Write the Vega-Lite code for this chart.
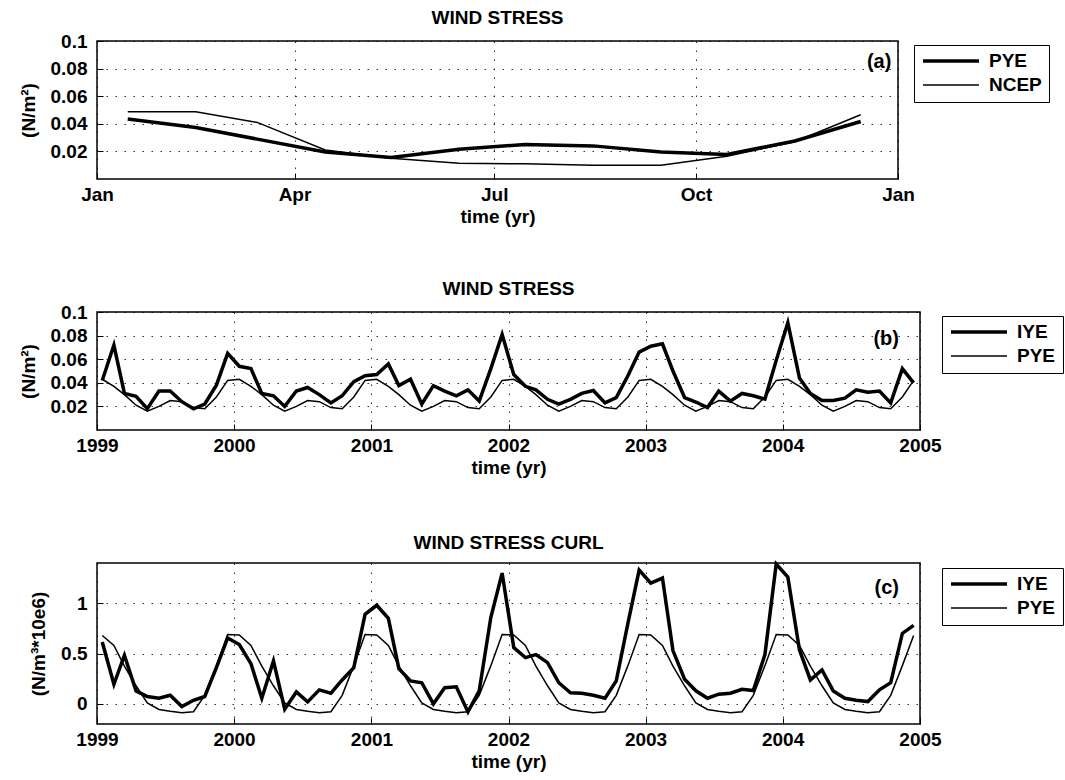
{
  "$schema": "https://vega.github.io/schema/vega-lite/v6.json",
  "background": "white",
  "padding": {"left": 18, "top": 8, "right": 2, "bottom": 2},
  "config": {
    "font": "Liberation Sans",
    "view": {"stroke": "black", "strokeWidth": 1.5},
    "axis": {
      "labelFont": "Liberation Sans", "labelFontWeight": "bold", "labelFontSize": 19, "labelColor": "black",
      "titleFont": "Liberation Sans", "titleFontWeight": "bold", "titleFontSize": 19, "titleColor": "black",
      "domain": false, "grid": true, "gridColor": "black", "gridDash": [1.5, 7.5], "gridWidth": 1, "gridOpacity": 0.8,
      "tickColor": "black", "tickSize": -6, "tickWidth": 1, "labelOverlap": false, "labelFlush": false, "labelPadding": 16
    },
    "axisX": {"titlePadding": 3, "labelPadding": 12},
    "axisY": {"titlePadding": 12},
    "title": {"font": "Liberation Sans", "fontWeight": "bold", "fontSize": 19, "color": "black", "anchor": "middle", "frame": "group", "offset": 4},
    "legend": {
      "title": null, "orient": "none", "strokeColor": "black", "fillColor": "white", "padding": 7,
      "symbolType": "stroke", "symbolSize": 3136, "symbolStrokeColor": "black", "clipHeight": 18,
      "labelFont": "Liberation Sans", "labelFontSize": 19, "labelFontWeight": "bold", "labelColor": "black",
      "labelOffset": 8, "rowPadding": 5, "labelLimit": 200
    }
  },
  "datasets": {
    "a": [
      {"date": "2001-01-15", "PYE": 0.0435, "NCEP": 0.0488},
      {"date": "2001-02-15", "PYE": 0.0373, "NCEP": 0.0488},
      {"date": "2001-03-15", "PYE": 0.0289, "NCEP": 0.041},
      {"date": "2001-04-15", "PYE": 0.0195, "NCEP": 0.021},
      {"date": "2001-05-15", "PYE": 0.0155, "NCEP": 0.015},
      {"date": "2001-06-15", "PYE": 0.0215, "NCEP": 0.0115},
      {"date": "2001-07-15", "PYE": 0.025, "NCEP": 0.011},
      {"date": "2001-08-15", "PYE": 0.024, "NCEP": 0.010},
      {"date": "2001-09-15", "PYE": 0.0195, "NCEP": 0.010},
      {"date": "2001-10-15", "PYE": 0.0178, "NCEP": 0.0165},
      {"date": "2001-11-15", "PYE": 0.0275, "NCEP": 0.027},
      {"date": "2001-12-15", "PYE": 0.0417, "NCEP": 0.0466}
    ],
    "b": [
      {"date": "1999-01-15", "IYE": 0.042, "PYE": 0.043},
      {"date": "1999-02-15", "IYE": 0.072, "PYE": 0.037},
      {"date": "1999-03-15", "IYE": 0.031, "PYE": 0.030},
      {"date": "1999-04-15", "IYE": 0.0285, "PYE": 0.021},
      {"date": "1999-05-15", "IYE": 0.018, "PYE": 0.016},
      {"date": "1999-06-15", "IYE": 0.033, "PYE": 0.020},
      {"date": "1999-07-15", "IYE": 0.033, "PYE": 0.025},
      {"date": "1999-08-15", "IYE": 0.024, "PYE": 0.024},
      {"date": "1999-09-15", "IYE": 0.018, "PYE": 0.019},
      {"date": "1999-10-15", "IYE": 0.022, "PYE": 0.018},
      {"date": "1999-11-15", "IYE": 0.038, "PYE": 0.028},
      {"date": "1999-12-15", "IYE": 0.065, "PYE": 0.042},
      {"date": "2000-01-15", "IYE": 0.054, "PYE": 0.043},
      {"date": "2000-02-15", "IYE": 0.052, "PYE": 0.037},
      {"date": "2000-03-15", "IYE": 0.031, "PYE": 0.030},
      {"date": "2000-04-15", "IYE": 0.029, "PYE": 0.021},
      {"date": "2000-05-15", "IYE": 0.020, "PYE": 0.016},
      {"date": "2000-06-15", "IYE": 0.033, "PYE": 0.020},
      {"date": "2000-07-15", "IYE": 0.036, "PYE": 0.025},
      {"date": "2000-08-15", "IYE": 0.030, "PYE": 0.024},
      {"date": "2000-09-15", "IYE": 0.023, "PYE": 0.019},
      {"date": "2000-10-15", "IYE": 0.029, "PYE": 0.018},
      {"date": "2000-11-15", "IYE": 0.041, "PYE": 0.028},
      {"date": "2000-12-15", "IYE": 0.046, "PYE": 0.042},
      {"date": "2001-01-15", "IYE": 0.047, "PYE": 0.043},
      {"date": "2001-02-15", "IYE": 0.056, "PYE": 0.037},
      {"date": "2001-03-15", "IYE": 0.0376, "PYE": 0.030},
      {"date": "2001-04-15", "IYE": 0.043, "PYE": 0.021},
      {"date": "2001-05-15", "IYE": 0.022, "PYE": 0.016},
      {"date": "2001-06-15", "IYE": 0.0376, "PYE": 0.020},
      {"date": "2001-07-15", "IYE": 0.033, "PYE": 0.025},
      {"date": "2001-08-15", "IYE": 0.029, "PYE": 0.024},
      {"date": "2001-09-15", "IYE": 0.034, "PYE": 0.019},
      {"date": "2001-10-15", "IYE": 0.0245, "PYE": 0.018},
      {"date": "2001-11-15", "IYE": 0.052, "PYE": 0.028},
      {"date": "2001-12-15", "IYE": 0.081, "PYE": 0.042},
      {"date": "2002-01-15", "IYE": 0.047, "PYE": 0.043},
      {"date": "2002-02-15", "IYE": 0.037, "PYE": 0.037},
      {"date": "2002-03-15", "IYE": 0.034, "PYE": 0.030},
      {"date": "2002-04-15", "IYE": 0.026, "PYE": 0.021},
      {"date": "2002-05-15", "IYE": 0.022, "PYE": 0.016},
      {"date": "2002-06-15", "IYE": 0.026, "PYE": 0.020},
      {"date": "2002-07-15", "IYE": 0.031, "PYE": 0.025},
      {"date": "2002-08-15", "IYE": 0.0335, "PYE": 0.024},
      {"date": "2002-09-15", "IYE": 0.023, "PYE": 0.019},
      {"date": "2002-10-15", "IYE": 0.0275, "PYE": 0.018},
      {"date": "2002-11-15", "IYE": 0.046, "PYE": 0.028},
      {"date": "2002-12-15", "IYE": 0.066, "PYE": 0.042},
      {"date": "2003-01-15", "IYE": 0.071, "PYE": 0.043},
      {"date": "2003-02-15", "IYE": 0.073, "PYE": 0.037},
      {"date": "2003-03-15", "IYE": 0.050, "PYE": 0.030},
      {"date": "2003-04-15", "IYE": 0.0275, "PYE": 0.021},
      {"date": "2003-05-15", "IYE": 0.0237, "PYE": 0.016},
      {"date": "2003-06-15", "IYE": 0.019, "PYE": 0.020},
      {"date": "2003-07-15", "IYE": 0.033, "PYE": 0.025},
      {"date": "2003-08-15", "IYE": 0.0245, "PYE": 0.024},
      {"date": "2003-09-15", "IYE": 0.031, "PYE": 0.019},
      {"date": "2003-10-15", "IYE": 0.029, "PYE": 0.018},
      {"date": "2003-11-15", "IYE": 0.0262, "PYE": 0.028},
      {"date": "2003-12-15", "IYE": 0.059, "PYE": 0.042},
      {"date": "2004-01-15", "IYE": 0.091, "PYE": 0.043},
      {"date": "2004-02-15", "IYE": 0.044, "PYE": 0.037},
      {"date": "2004-03-15", "IYE": 0.031, "PYE": 0.030},
      {"date": "2004-04-15", "IYE": 0.025, "PYE": 0.021},
      {"date": "2004-05-15", "IYE": 0.025, "PYE": 0.016},
      {"date": "2004-06-15", "IYE": 0.027, "PYE": 0.020},
      {"date": "2004-07-15", "IYE": 0.034, "PYE": 0.025},
      {"date": "2004-08-15", "IYE": 0.032, "PYE": 0.024},
      {"date": "2004-09-15", "IYE": 0.033, "PYE": 0.019},
      {"date": "2004-10-15", "IYE": 0.023, "PYE": 0.018},
      {"date": "2004-11-15", "IYE": 0.052, "PYE": 0.028},
      {"date": "2004-12-15", "IYE": 0.040, "PYE": 0.042}
    ],
    "c": [
      {"date": "1999-01-15", "IYE": 0.615, "PYE": 0.68},
      {"date": "1999-02-15", "IYE": 0.195, "PYE": 0.58},
      {"date": "1999-03-15", "IYE": 0.483, "PYE": 0.375},
      {"date": "1999-04-15", "IYE": 0.129, "PYE": 0.18},
      {"date": "1999-05-15", "IYE": 0.073, "PYE": 0.01},
      {"date": "1999-06-15", "IYE": 0.056, "PYE": -0.055},
      {"date": "1999-07-15", "IYE": 0.086, "PYE": -0.073},
      {"date": "1999-08-15", "IYE": -0.026, "PYE": -0.088},
      {"date": "1999-09-15", "IYE": 0.036, "PYE": -0.078},
      {"date": "1999-10-15", "IYE": 0.073, "PYE": 0.085},
      {"date": "1999-11-15", "IYE": 0.36, "PYE": 0.38},
      {"date": "1999-12-15", "IYE": 0.655, "PYE": 0.69},
      {"date": "2000-01-15", "IYE": 0.59, "PYE": 0.685},
      {"date": "2000-02-15", "IYE": 0.40, "PYE": 0.58},
      {"date": "2000-03-15", "IYE": 0.056, "PYE": 0.375},
      {"date": "2000-04-15", "IYE": 0.427, "PYE": 0.18},
      {"date": "2000-05-15", "IYE": -0.053, "PYE": 0.01},
      {"date": "2000-06-15", "IYE": 0.119, "PYE": -0.055},
      {"date": "2000-07-15", "IYE": 0.02, "PYE": -0.073},
      {"date": "2000-08-15", "IYE": 0.139, "PYE": -0.088},
      {"date": "2000-09-15", "IYE": 0.106, "PYE": -0.078},
      {"date": "2000-10-15", "IYE": 0.238, "PYE": 0.085},
      {"date": "2000-11-15", "IYE": 0.36, "PYE": 0.38},
      {"date": "2000-12-15", "IYE": 0.89, "PYE": 0.69},
      {"date": "2001-01-15", "IYE": 0.98, "PYE": 0.685},
      {"date": "2001-02-15", "IYE": 0.85, "PYE": 0.58},
      {"date": "2001-03-15", "IYE": 0.35, "PYE": 0.375},
      {"date": "2001-04-15", "IYE": 0.228, "PYE": 0.18},
      {"date": "2001-05-15", "IYE": 0.21, "PYE": 0.01},
      {"date": "2001-06-15", "IYE": 0.0, "PYE": -0.055},
      {"date": "2001-07-15", "IYE": 0.16, "PYE": -0.073},
      {"date": "2001-08-15", "IYE": 0.17, "PYE": -0.088},
      {"date": "2001-09-15", "IYE": -0.08, "PYE": -0.078},
      {"date": "2001-10-15", "IYE": 0.13, "PYE": 0.085},
      {"date": "2001-11-15", "IYE": 0.86, "PYE": 0.38},
      {"date": "2001-12-15", "IYE": 1.30, "PYE": 0.69},
      {"date": "2002-01-15", "IYE": 0.56, "PYE": 0.685},
      {"date": "2002-02-15", "IYE": 0.46, "PYE": 0.58},
      {"date": "2002-03-15", "IYE": 0.49, "PYE": 0.375},
      {"date": "2002-04-15", "IYE": 0.41, "PYE": 0.18},
      {"date": "2002-05-15", "IYE": 0.21, "PYE": 0.01},
      {"date": "2002-06-15", "IYE": 0.11, "PYE": -0.055},
      {"date": "2002-07-15", "IYE": 0.106, "PYE": -0.073},
      {"date": "2002-08-15", "IYE": 0.086, "PYE": -0.088},
      {"date": "2002-09-15", "IYE": 0.056, "PYE": -0.078},
      {"date": "2002-10-15", "IYE": 0.228, "PYE": 0.085},
      {"date": "2002-11-15", "IYE": 0.80, "PYE": 0.38},
      {"date": "2002-12-15", "IYE": 1.33, "PYE": 0.69},
      {"date": "2003-01-15", "IYE": 1.20, "PYE": 0.685},
      {"date": "2003-02-15", "IYE": 1.25, "PYE": 0.58},
      {"date": "2003-03-15", "IYE": 0.53, "PYE": 0.375},
      {"date": "2003-04-15", "IYE": 0.245, "PYE": 0.18},
      {"date": "2003-05-15", "IYE": 0.13, "PYE": 0.01},
      {"date": "2003-06-15", "IYE": 0.056, "PYE": -0.055},
      {"date": "2003-07-15", "IYE": 0.096, "PYE": -0.073},
      {"date": "2003-08-15", "IYE": 0.106, "PYE": -0.088},
      {"date": "2003-09-15", "IYE": 0.145, "PYE": -0.078},
      {"date": "2003-10-15", "IYE": 0.132, "PYE": 0.085},
      {"date": "2003-11-15", "IYE": 0.49, "PYE": 0.38},
      {"date": "2003-12-15", "IYE": 1.39, "PYE": 0.69},
      {"date": "2004-01-15", "IYE": 1.26, "PYE": 0.685},
      {"date": "2004-02-15", "IYE": 0.536, "PYE": 0.58},
      {"date": "2004-03-15", "IYE": 0.238, "PYE": 0.375},
      {"date": "2004-04-15", "IYE": 0.337, "PYE": 0.18},
      {"date": "2004-05-15", "IYE": 0.129, "PYE": 0.01},
      {"date": "2004-06-15", "IYE": 0.056, "PYE": -0.055},
      {"date": "2004-07-15", "IYE": 0.036, "PYE": -0.073},
      {"date": "2004-08-15", "IYE": 0.023, "PYE": -0.088},
      {"date": "2004-09-15", "IYE": 0.139, "PYE": -0.078},
      {"date": "2004-10-15", "IYE": 0.21, "PYE": 0.085},
      {"date": "2004-11-15", "IYE": 0.70, "PYE": 0.38},
      {"date": "2004-12-15", "IYE": 0.78, "PYE": 0.68}
    ]
  },
  "spacing": 133,
  "bounds": "flush",
  "resolve": {"scale": {"strokeWidth": "independent", "x": "independent", "y": "independent"}, "legend": {"strokeWidth": "independent"}},
  "vconcat": [
    {
      "width": 801, "height": 138,
      "title": {"text": "WIND STRESS"},
      "layer": [
        {
          "data": {"name": "a"},
          "transform": [{"fold": ["PYE", "NCEP"], "as": ["series", "value"]}],
          "mark": {"type": "line", "color": "black"},
          "encoding": {
            "x": {"field": "date", "type": "temporal",
              "scale": {"type": "utc", "domain": [{"year": 2001, "month": 1, "date": 1, "utc": true}, {"year": 2002, "month": 1, "date": 1, "utc": true}]},
              "axis": {"title": "time (yr)", "labelOverlap": false, "tickCount": 20, "labelExpr": "utcFormat(datum.value, '%b')",
                "values": [{"year": 2001, "month": 1, "date": 1, "utc": true}, {"year": 2001, "month": 4, "date": 1, "utc": true}, {"year": 2001, "month": 7, "date": 1, "utc": true}, {"year": 2001, "month": 10, "date": 1, "utc": true}, {"year": 2002, "month": 1, "date": 1, "utc": true}]}},
            "y": {"field": "value", "type": "quantitative", "scale": {"domain": [0, 0.1]},
              "axis": {"title": "(N/m²)", "labelOverlap": false, "tickCount": 20, "values": [0.02, 0.04, 0.06, 0.08, 0.1], "format": "~g"}},
            "strokeWidth": {"field": "series", "type": "ordinal", "scale": {"domain": ["PYE", "NCEP"], "range": [3.5, 1.5]},
              "legend": {"legendX": 817, "legendY": 4}}
          }
        },
        {
          "data": {"values": [{}]},
          "mark": {"type": "text", "text": "(a)", "align": "right", "baseline": "middle", "fontSize": 20, "fontWeight": "bold", "font": "Liberation Sans", "color": "black"},
          "encoding": {
            "x": {"datum": {"year": 2001, "month": 12, "date": 29, "utc": true}, "type": "temporal"},
            "y": {"datum": 0.085, "type": "quantitative"}
          }
        }
      ]
    },
    {
      "width": 823, "height": 118,
      "title": {"text": "WIND STRESS"},
      "layer": [
        {
          "data": {"name": "b"},
          "transform": [{"fold": ["IYE", "PYE"], "as": ["series", "value"]}],
          "mark": {"type": "line", "color": "black"},
          "encoding": {
            "x": {"field": "date", "type": "temporal",
              "scale": {"type": "utc", "domain": [{"year": 1999, "month": 1, "date": 1, "utc": true}, {"year": 2005, "month": 1, "date": 1, "utc": true}]},
              "axis": {"title": "time (yr)", "labelOverlap": false, "tickCount": 20, "labelExpr": "utcFormat(datum.value, '%Y')",
                "values": [{"year": 1999, "month": 1, "date": 1, "utc": true}, {"year": 2000, "month": 1, "date": 1, "utc": true}, {"year": 2001, "month": 1, "date": 1, "utc": true}, {"year": 2002, "month": 1, "date": 1, "utc": true}, {"year": 2003, "month": 1, "date": 1, "utc": true}, {"year": 2004, "month": 1, "date": 1, "utc": true}, {"year": 2005, "month": 1, "date": 1, "utc": true}]}},
            "y": {"field": "value", "type": "quantitative", "scale": {"domain": [0, 0.1]},
              "axis": {"title": "(N/m²)", "labelOverlap": false, "tickCount": 20, "values": [0.02, 0.04, 0.06, 0.08, 0.1], "format": "~g"}},
            "strokeWidth": {"field": "series", "type": "ordinal", "scale": {"domain": ["IYE", "PYE"], "range": [3.5, 1.5]},
              "legend": {"legendX": 845, "legendY": 4}}
          }
        },
        {
          "data": {"values": [{}]},
          "mark": {"type": "text", "text": "(b)", "align": "right", "baseline": "middle", "fontSize": 20, "fontWeight": "bold", "font": "Liberation Sans", "color": "black"},
          "encoding": {
            "x": {"datum": {"year": 2004, "month": 11, "date": 6, "utc": true}, "type": "temporal"},
            "y": {"datum": 0.077, "type": "quantitative"}
          }
        }
      ]
    },
    {
      "width": 823, "height": 161,
      "title": {"text": "WIND STRESS CURL"},
      "layer": [
        {
          "data": {"name": "c"},
          "transform": [{"fold": ["IYE", "PYE"], "as": ["series", "value"]}],
          "mark": {"type": "line", "color": "black"},
          "encoding": {
            "x": {"field": "date", "type": "temporal",
              "scale": {"type": "utc", "domain": [{"year": 1999, "month": 1, "date": 1, "utc": true}, {"year": 2005, "month": 1, "date": 1, "utc": true}]},
              "axis": {"title": "time (yr)", "labelOverlap": false, "tickCount": 20, "labelExpr": "utcFormat(datum.value, '%Y')",
                "values": [{"year": 1999, "month": 1, "date": 1, "utc": true}, {"year": 2000, "month": 1, "date": 1, "utc": true}, {"year": 2001, "month": 1, "date": 1, "utc": true}, {"year": 2002, "month": 1, "date": 1, "utc": true}, {"year": 2003, "month": 1, "date": 1, "utc": true}, {"year": 2004, "month": 1, "date": 1, "utc": true}, {"year": 2005, "month": 1, "date": 1, "utc": true}]}},
            "y": {"field": "value", "type": "quantitative", "scale": {"domain": [-0.2, 1.4]},
              "axis": {"title": "(N/m³*10e6)", "labelOverlap": false, "tickCount": 20, "values": [0, 0.5, 1], "format": "~g"}},
            "strokeWidth": {"field": "series", "type": "ordinal", "scale": {"domain": ["IYE", "PYE"], "range": [3.5, 1.5]},
              "legend": {"legendX": 845, "legendY": 5}}
          }
        },
        {
          "data": {"values": [{}]},
          "mark": {"type": "text", "text": "(c)", "align": "right", "baseline": "middle", "fontSize": 20, "fontWeight": "bold", "font": "Liberation Sans", "color": "black"},
          "encoding": {
            "x": {"datum": {"year": 2004, "month": 11, "date": 6, "utc": true}, "type": "temporal"},
            "y": {"datum": 1.155, "type": "quantitative"}
          }
        }
      ]
    }
  ]
}
